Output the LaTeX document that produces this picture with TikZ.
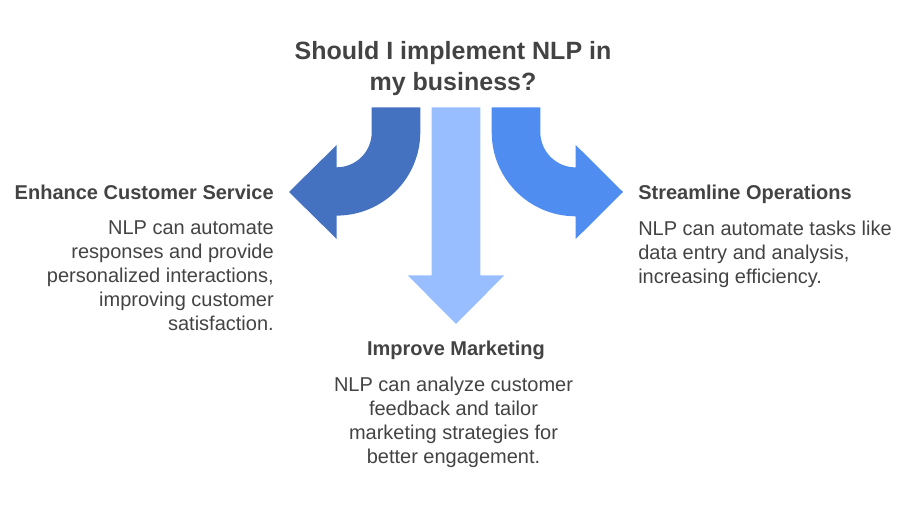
\documentclass[tikz,border=0pt]{standalone}
\usepackage{fontspec}
\setmainfont{Liberation Sans}
\definecolor{leftblue}{HTML}{4472C0}
\definecolor{rightblue}{HTML}{4F8DF0}
\definecolor{downblue}{HTML}{99BEFF}
\definecolor{textgrey}{HTML}{434343}
\begin{document}
\begin{tikzpicture}[x=.75pt,y=.75pt,title node/.style={inner sep=0pt,align=center,text=textgrey,font=\fontsize{18.75}{23.5}\selectfont\bfseries},head node/.style={inner sep=0pt,text=textgrey,font=\fontsize{15}{18}\selectfont\bfseries},body node/.style={inner sep=0pt,text=textgrey,font=\fontsize{15}{18}\selectfont}]
\useasboundingbox (0,0) rectangle (924,-516);
%arrows
\fill [leftblue] (371.7,-107.3) -- (420.3,-107.3) -- (420.3,-132) arc (0:-90:83.6) -- (336.7,-239) -- (289,-192) -- (336.7,-145) -- (336.7,-167.3) arc (-90:0:35) -- cycle;
\fill [downblue] (431.7,-107.3) -- (480.3,-107.3) -- (480.3,-275.3) -- (504.3,-275.3) -- (456,-324) -- (407.7,-275.3) -- (431.7,-275.3) -- cycle;
\fill [rightblue] (491.7,-107.3) -- (540.3,-107.3) -- (540.3,-132) arc (180:270:35.4) -- (575.7,-145) -- (623,-192) -- (575.7,-239) -- (575.7,-216.3) arc (270:180:84) -- cycle;
%texts
\node [title node](question) at (453,-68.3) {Should I implement NLP in\\my business?};
\node [head node,anchor=base east](service) at (274,-199.7) {Enhance Customer Service};
\node [body node,anchor=north east,align=right](servicetext) at (274,-220.7) {NLP can automate\\responses and provide\\personalized interactions,\\improving customer\\satisfaction.};
\node [head node,anchor=base west](operations) at (638,-199.7) {Streamline Operations};
\node [body node,anchor=north west,align=left](operationstext) at (638,-220.7) {NLP can automate tasks like\\data entry and analysis,\\increasing efficiency.};
\node [head node,anchor=base](marketing) at (456,-355) {Improve Marketing};
\node [body node,anchor=north,align=center](marketingtext) at (453.5,-376.7) {NLP can analyze customer\\feedback and tailor\\marketing strategies for\\better engagement.};
\end{tikzpicture}
\end{document}
